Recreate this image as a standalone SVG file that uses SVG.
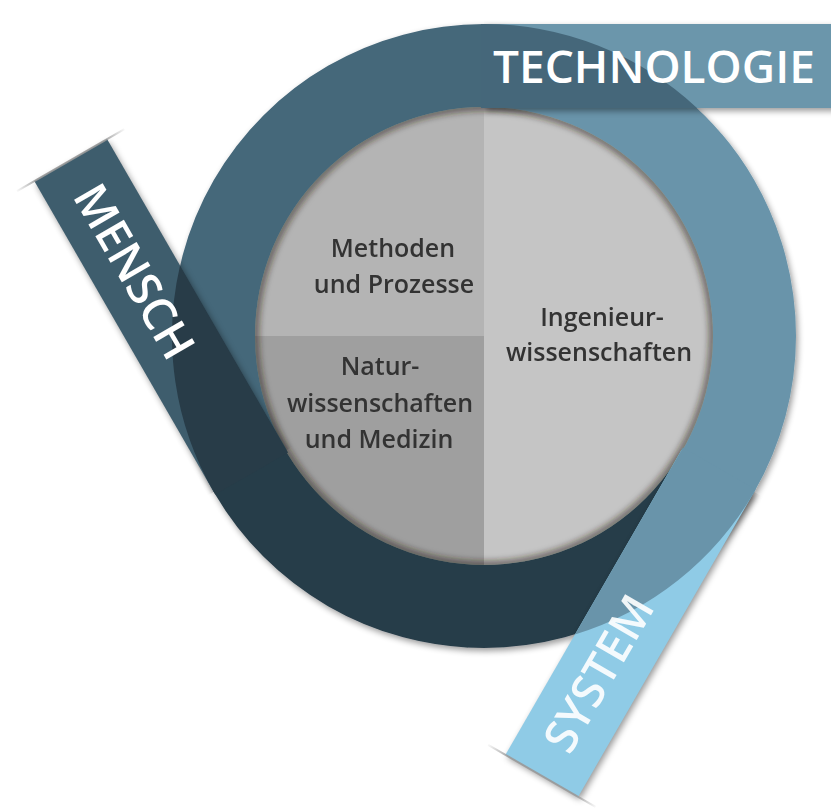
<svg xmlns="http://www.w3.org/2000/svg" width="831" height="809" viewBox="0 0 831 809">
<defs>
<filter id="shadow" x="-20%" y="-20%" width="140%" height="140%">
<feGaussianBlur in="SourceAlpha" stdDeviation="3"/>
<feOffset dx="2" dy="3"/>
<feComponentTransfer><feFuncA type="linear" slope="0.4"/></feComponentTransfer>
<feMerge><feMergeNode/><feMergeNode in="SourceGraphic"/></feMerge>
</filter>
<filter id="blur" x="-10%" y="-10%" width="120%" height="120%"><feGaussianBlur stdDeviation="3"/></filter>
<filter id="sblur" x="-20%" y="-30%" width="140%" height="160%"><feGaussianBlur stdDeviation="3"/></filter>
<clipPath id="discClip"><circle cx="484" cy="336" r="229"/></clipPath>
<clipPath id="tanClip"><rect x="484" y="-1000" width="2000" height="3000"/></clipPath>
<linearGradient id="fold" gradientUnits="userSpaceOnUse" x1="0" y1="2" x2="0" y2="130">
<stop offset="0" stop-color="#999" stop-opacity="0"/>
<stop offset="0.2" stop-color="#999" stop-opacity="0.9"/>
<stop offset="0.8" stop-color="#999" stop-opacity="0.9"/>
<stop offset="1" stop-color="#999" stop-opacity="0"/>
</linearGradient>
<path id="wrap" d="M213.8,492 A312,312 0 0 1 484,24 L484,108 A228,228 0 0 0 286.5,450 Z"/>
<path id="inside" d="M481,24 L484,24 A312,312 0 0 1 697,108 L481,108 Z"/>
</defs>
<style>
.lbl{font-family:"Open Sans","Noto Sans","Liberation Sans",sans-serif;font-weight:600;fill:#333;font-size:25px;text-anchor:middle}
.rib{font-family:"Open Sans","Noto Sans","Liberation Sans",sans-serif;font-weight:600;fill:#fff;font-size:46px}
.foldl{stroke:url(#fold);stroke-width:2;fill:none}
.sh{fill:#000;fill-opacity:0.4}
</style>
<rect width="831" height="809" fill="#fff"/>

<g id="ring" filter="url(#shadow)">
<use href="#wrap" fill="#45677a"/>
<use href="#wrap" fill="#283c48" transform="rotate(-120 484 336)"/>
<use href="#wrap" fill="#6994aa" transform="rotate(120 484 336)"/>
</g>

<g id="disc">
<path d="M484,107 A229,229 0 0 1 484,565 Z" fill="#c5c5c5"/>
<path d="M484,336 L484,107 A229,229 0 0 0 255,336 Z" fill="#b4b4b4"/>
<path d="M484,336 L255,336 A229,229 0 0 0 484,565 Z" fill="#9f9f9f"/>
<g clip-path="url(#discClip)"><circle cx="484" cy="336" r="229" fill="none" stroke="#2a201a" stroke-opacity="0.55" stroke-width="8" filter="url(#blur)"/></g>
</g>

<g id="technologie">
<g clip-path="url(#tanClip)"><rect class="sh" x="486" y="27" width="400" height="84" filter="url(#sblur)"/></g>
<rect x="484" y="24" width="400" height="84" fill="#6b96ab"/>
<use href="#inside" fill="#45677a"/>
<text class="rib" x="493" y="83">TECHNOLOGIE</text>
</g>

<g id="mensch">
<g transform="rotate(-120 484 336)">
<g clip-path="url(#tanClip)"><rect class="sh" x="480.4" y="24.2" width="359" height="84" filter="url(#sblur)"/></g>
<rect x="484" y="24" width="359" height="84" fill="#3e5d6d"/>
<use href="#inside" fill="#283c48"/>
<line class="foldl" x1="843" y1="4" x2="843" y2="128"/>
</g>
<text class="rib" text-anchor="middle" transform="translate(135,271) rotate(60)" x="0" y="17">MENSCH</text>
</g>

<g id="system">
<g transform="rotate(120 484 336)">
<g clip-path="url(#tanClip)"><rect class="sh" x="485.6" y="20.8" width="352" height="84" filter="url(#sblur)"/></g>
<rect x="484" y="24" width="352" height="84" fill="#8fcbe6"/>
<use href="#inside" fill="#6994aa"/>
<line class="foldl" x1="836" y1="4" x2="836" y2="128"/>
</g>
<text class="rib" text-anchor="middle" fill-opacity="0.9" transform="translate(598,673) rotate(-60)" x="0" y="17">SYSTEM</text>
</g>

<g id="methoden">
<text class="lbl" x="393" y="257">Methoden</text>
<text class="lbl" x="394" y="293">und Prozesse</text>
</g>
<g id="natur">
<text class="lbl" x="380" y="375">Natur-</text>
<text class="lbl" x="380" y="412">wissenschaften</text>
<text class="lbl" x="379" y="448">und Medizin</text>
</g>
<g id="ingenieur">
<text class="lbl" x="602" y="326">Ingenieur-</text>
<text class="lbl" x="599" y="361">wissenschaften</text>
</g>
</svg>
